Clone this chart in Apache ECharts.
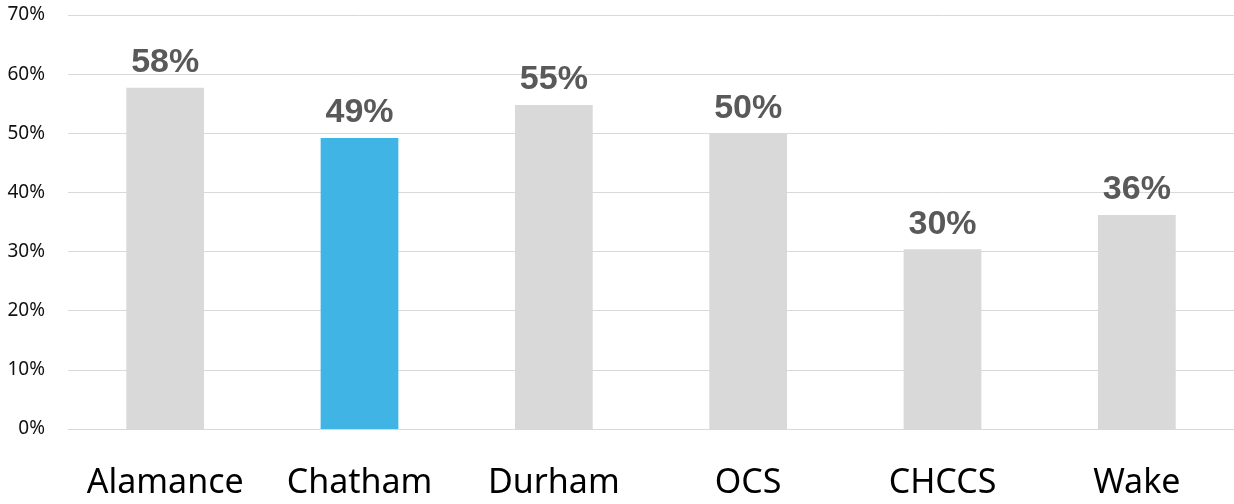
<!DOCTYPE html>
<html>
<head>
<meta charset="utf-8">
<script src="https://cdn.jsdelivr.net/npm/echarts@6/dist/echarts.min.js"></script>
<style>
  html, body { margin: 0; padding: 0; background: #fff; }
  #chart { width: 1234px; height: 504px; }
</style>
</head>
<body>
<div id="chart"></div>
<script>
const districts = ['Alamance', 'Chatham', 'Durham', 'OCS', 'CHCCS', 'Wake'];
const shares = [57.7, 49.2, 54.8, 49.9, 30.4, 36.2];
const highlight = 'Chatham';

const myChart = echarts.init(document.getElementById('chart'), null, { renderer: 'canvas' });
myChart.setOption({
  animation: false,
  grid: {
    left: 68,
    right: 0,
    top: 15,
    bottom: 75,
  },
  xAxis: {
    type: 'category',
    data: districts,
    axisTick: { show: false },
    axisLine: { lineStyle: { color: '#d9d9d9', width: 1 } },
    axisLabel: {
      interval: 0,
      margin: 37,
      fontSize: 34,
      fontFamily: 'Noto Sans',
      color: '#000',
    },
  },
  yAxis: {
    type: 'value',
    min: 0,
    max: 70,
    interval: 10,
    axisLine: { show: false },
    axisTick: { show: false },
    splitLine: { lineStyle: { color: '#d9d9d9', width: 1 } },
    axisLabel: {
      margin: 23,
      fontSize: 19,
      fontFamily: 'Noto Sans',
      color: '#111',
      formatter: v => v + '%',
    },
  },
  series: [
    {
      type: 'bar',
      barWidth: '40%',
      data: shares.map((v, i) => ({
        value: v,
        itemStyle: { color: districts[i] === highlight ? '#41b4e6' : '#d9d9d9' },
      })),
      label: {
        show: true,
        position: 'top',
        distance: 8,
        fontSize: 34,
        fontWeight: 'bold',
        fontFamily: 'Liberation Sans',
        color: '#595959',
        formatter: p => Math.round(p.value) + '%',
      },
    },
  ],
});
</script>
</body>
</html>
